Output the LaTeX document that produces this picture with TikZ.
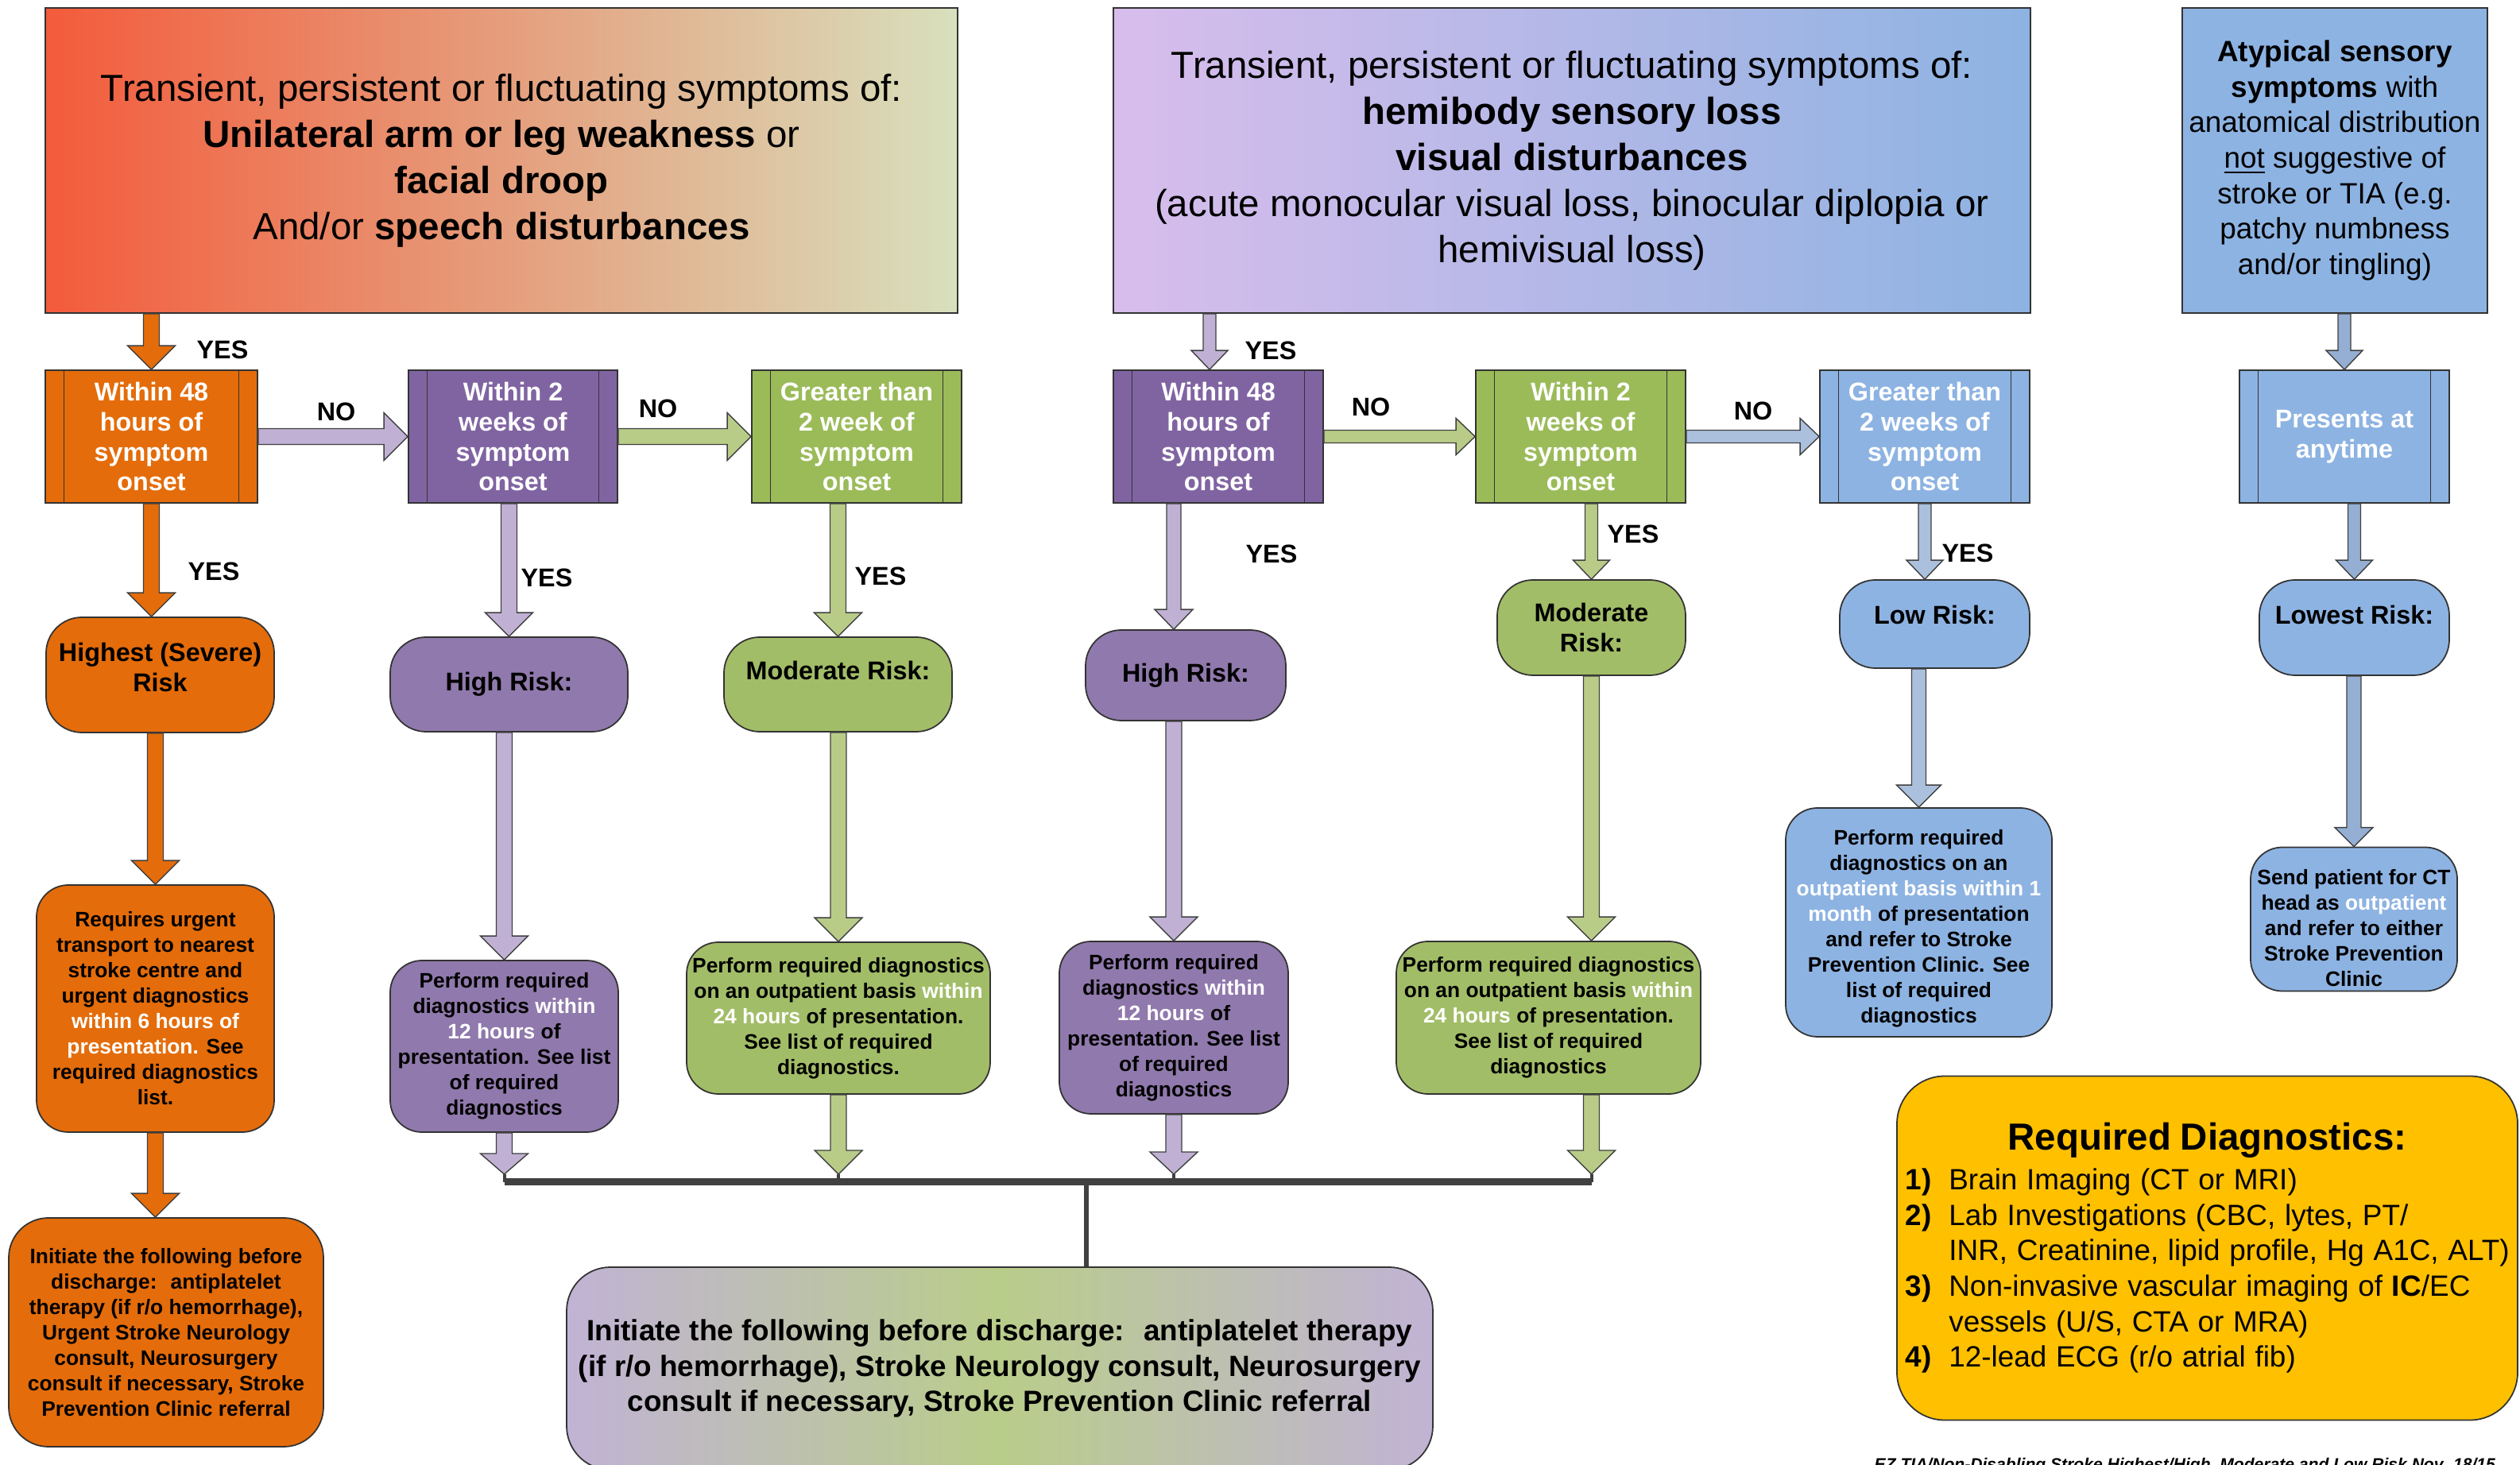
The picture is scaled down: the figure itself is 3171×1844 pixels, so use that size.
\documentclass[tikz,border=0pt]{standalone}
\usepackage{fontspec}
\setmainfont{Liberation Sans}
\usetikzlibrary{calc}
\definecolor{cOrange}{HTML}{E46C0A}
\definecolor{cPurple}{HTML}{8064A2}
\definecolor{cPurpleL}{HTML}{9079AC}
\definecolor{cGreen}{HTML}{9BBB59}
\definecolor{cGreenL}{HTML}{A2BD67}
\definecolor{cBlue}{HTML}{8DB3E2}
\definecolor{aLav}{HTML}{C0B1D4}
\definecolor{aGreen}{HTML}{B8CC88}
\definecolor{aBlue}{HTML}{ABC0DD}
\definecolor{aSteel}{HTML}{94AFD3}
\definecolor{cYellow}{HTML}{FFC000}
\definecolor{busc}{HTML}{404040}
\definecolor{tlL}{HTML}{F35B3B}
\definecolor{tlR}{HTML}{D8E0BD}
\definecolor{tmL}{HTML}{D8BDEC}
\definecolor{tmR}{HTML}{8DB3E2}
\definecolor{botS}{HTML}{C1B3D5}
\definecolor{botM}{HTML}{B9CD8A}
\newcommand\wh[1]{\textcolor{white}{#1}}
% block arrow: start, end, fill, half shaft, half head, head length
\newcommand\blockarrow[6]{%
  \coordinate (ba-s) at (#1);
  \coordinate (ba-t) at (#2);
  \coordinate (ba-h) at ($(ba-t)!#6!(ba-s)$);
  \filldraw[barrow, fill=#3]
    ($(ba-s)!#4!90:(ba-t)$) -- ($(ba-h)!#4!90:(ba-t)$) -- ($(ba-h)!#5!90:(ba-t)$)
    -- (ba-t) -- ($(ba-h)!#5!-90:(ba-t)$) -- ($(ba-h)!#4!-90:(ba-t)$)
    -- ($(ba-s)!#4!-90:(ba-t)$) -- cycle;
}
\tikzset{
  barrow/.style={draw=busc, line width=0.4pt, line join=miter},
  tbox/.style={draw=black!80, line width=0.5pt, minimum height=38.4mm, inner sep=0pt,
    align=center, font=\fontsize{13.5}{16.5}\selectfont},
  dbox/.style={draw=black!80, line width=0.5pt, minimum height=16.7mm, inner sep=0pt,
    align=center, text=white, font=\fontsize{9.2}{10.8}\selectfont\bfseries,
    path picture={\draw[black!80, line width=0.5pt]
      ([xshift=2.35mm]path picture bounding box.north west) -- ([xshift=2.35mm]path picture bounding box.south west)
      ([xshift=-2.35mm]path picture bounding box.north east) -- ([xshift=-2.35mm]path picture bounding box.south east);}},
  rbox/.style={draw=black!80, line width=0.5pt, rounded corners=4.5mm, inner sep=0pt,
    align=center, font=\fontsize{9.2}{10.8}\selectfont\bfseries},
  abox/.style={draw=black!80, line width=0.5pt, rounded corners=4mm, inner sep=0pt,
    align=center, font=\fontsize{7.5}{9.1}\selectfont\bfseries},
  lbl/.style={inner sep=0pt, font=\fontsize{9.2}{10.8}\selectfont\bfseries},
  busline/.style={draw=busc, line width=0.9mm},
  tickline/.style={draw=busc, line width=0.4mm},
  stemline/.style={draw=busc, line width=0.6mm},
}
\begin{document}
\begin{tikzpicture}[x=0.1mm, y=-0.1mm]
\useasboundingbox (0,0) rectangle (3171,1844);
\fill[white] (0,0) rectangle (3171,1844);

% top boxes
\node[tbox, left color=tlL, right color=tlR, minimum width=114.8mm] (tl) at (631,202)
  {Transient, persistent or fluctuating symptoms of:\\\textbf{Unilateral arm or leg weakness} or\\\textbf{facial droop}\\And/or \textbf{speech disturbances}};
\node[tbox, left color=tmL, right color=tmR, minimum width=115.4mm] (tm) at (1978,202)
  {Transient, persistent or fluctuating symptoms of:\\\textbf{hemibody sensory loss}\\\textbf{visual disturbances}\\(acute monocular visual loss, binocular diplopia or\\hemivisual loss)};
\node[tbox, fill=cBlue, minimum width=38.4mm, font=\fontsize{10.5}{12.7}\selectfont] (tr) at (2938,202)
  {\textbf{Atypical sensory}\\\textbf{symptoms} with\\anatomical distribution\\\underline{not} suggestive of\\stroke or TIA (e.g.\\patchy numbness\\and/or tingling)};

% decision boxes
\node[dbox, fill=cOrange, minimum width=26.7mm] (d1) at (190.5,549.5) {Within 48\\hours of\\symptom\\onset};
\node[dbox, fill=cPurple, minimum width=26.3mm] (d2) at (645.5,549.5) {Within 2\\weeks of\\symptom\\onset};
\node[dbox, fill=cGreen, minimum width=26.4mm] (d3) at (1078,549.5) {Greater than\\2 week of\\symptom\\onset};
\node[dbox, fill=cPurple, minimum width=26.4mm] (d4) at (1533,549.5) {Within 48\\hours of\\symptom\\onset};
\node[dbox, fill=cGreen, minimum width=26.4mm] (d5) at (1989,549.5) {Within 2\\weeks of\\symptom\\onset};
\node[dbox, fill=cBlue, minimum width=26.4mm] (d6) at (2422,549.5) {Greater than\\2 weeks of\\symptom\\onset};
\node[dbox, fill=cBlue, minimum width=26.4mm] (d7) at (2950,549.5) {Presents at\\anytime};

% risk nodes
\node[rbox, fill=cOrange, minimum width=28.7mm, minimum height=14.5mm] (r1) at (201.5,849.5) {Highest (Severe)\\Risk\rule[-5.7pt]{0pt}{5.7pt}};
\node[rbox, fill=cPurpleL, minimum width=29.9mm, minimum height=11.9mm] (r2) at (640.5,861.5) {High Risk:};
\node[rbox, fill=cGreenL, minimum width=28.7mm, minimum height=11.9mm, text depth=10pt] (r3) at (1054.5,861.5) {Moderate Risk:};
\node[rbox, fill=cPurpleL, minimum width=25.2mm, minimum height=11.4mm] (r4) at (1492,850) {High Risk:};
\node[rbox, fill=cGreenL, minimum width=23.7mm, minimum height=12mm] (r5) at (2002.5,790) {Moderate\\Risk:};
\node[rbox, fill=cBlue, minimum width=23.9mm, minimum height=11.1mm, text depth=6.8pt] (r6) at (2434.5,785.5) {Low Risk:};
\node[rbox, fill=cBlue, minimum width=23.9mm, minimum height=12mm, text depth=9.5pt] (r7) at (2962.5,790) {Lowest Risk:};

% action boxes
\node[abox, fill=cOrange, minimum width=29.9mm, minimum height=31.1mm] (a1) at (195.5,1269.5)
  {Requires urgent\\transport to nearest\\stroke centre and\\urgent diagnostics\\\wh{within 6 hours of}\\\wh{presentation.} See\\required diagnostics\\list.};
\node[abox, fill=cPurpleL, minimum width=28.7mm, minimum height=21.6mm] (a2) at (634.5,1317)
  {Perform required\\diagnostics \wh{within}\\\wh{12 hours} of\\presentation. See list\\of required\\diagnostics};
\node[abox, fill=cGreenL, minimum width=38.2mm, minimum height=19.1mm] (a3) at (1055,1281.5)
  {Perform required diagnostics\\on an outpatient basis \wh{within}\\\wh{24 hours} of presentation.\\See list of required\\diagnostics.};
\node[abox, fill=cPurpleL, minimum width=28.8mm, minimum height=21.7mm] (a4) at (1477,1293.5)
  {Perform required\\diagnostics \wh{within}\\\wh{12 hours} of\\presentation. See list\\of required\\diagnostics};
\node[abox, fill=cGreenL, minimum width=38.3mm, minimum height=19.2mm] (a5) at (1948.5,1281)
  {Perform required diagnostics\\on an outpatient basis \wh{within}\\\wh{24 hours} of presentation.\\See list of required\\diagnostics};
\node[abox, fill=cBlue, minimum width=33.5mm, minimum height=28.8mm] (a6) at (2414.5,1161)
  {\rule{0pt}{10pt}Perform required\\diagnostics on an\\\wh{outpatient basis within 1}\\\wh{month} of presentation\\and refer to Stroke\\Prevention Clinic. See\\list of required\\diagnostics};
\node[abox, fill=cBlue, minimum width=26mm, minimum height=18.1mm] (a7) at (2962,1157)
  {\rule{0pt}{12pt}Send patient for CT\\head as \wh{outpatient}\\and refer to either\\Stroke Prevention\\Clinic};
\node[abox, fill=cOrange, rounded corners=5mm, minimum width=39.6mm, minimum height=28.8mm] (i1) at (209,1677)
  {Initiate the following before\\discharge:~ antiplatelet\\therapy (if r/o hemorrhage),\\Urgent Stroke Neurology\\consult, Neurosurgery\\consult if necessary, Stroke\\Prevention Clinic referral};
\node[abox, left color=botS, right color=botS, middle color=botM, rounded corners=5.5mm,
  minimum width=109mm, minimum height=25.5mm, font=\fontsize{10.5}{12.6}\selectfont\bfseries] (bot) at (1258,1722.5)
  {Initiate the following before discharge:~ antiplatelet therapy\\(if r/o hemorrhage), Stroke Neurology consult, Neurosurgery\\consult if necessary, Stroke Prevention Clinic referral};

% required diagnostics
\node[draw=black!80, line width=0.5pt, fill=cYellow, rounded corners=6mm, minimum width=78.1mm,
  minimum height=43.3mm, inner xsep=1mm, inner ysep=0pt, text width=76mm] (yel) at (2777.5,1571)
  {\parindent=0pt
   {\centering\fontsize{13.5}{16}\selectfont\bfseries Required Diagnostics:\par}\vspace{1.5pt}
   \raggedright\fontsize{10.5}{12.7}\selectfont
   \hangindent=15.6pt\hangafter=1 \makebox[15.6pt][l]{\textbf{1)}}\mbox{Brain Imaging (CT or MRI)}\par
   \hangindent=15.6pt\hangafter=1 \makebox[15.6pt][l]{\textbf{2)}}\mbox{Lab Investigations (CBC, lytes, PT/}\newline \mbox{INR, Creatinine, lipid profile, Hg A1C, ALT)}\par
   \hangindent=15.6pt\hangafter=1 \makebox[15.6pt][l]{\textbf{3)}}\mbox{Non-invasive vascular imaging of \textbf{IC}/EC}\newline \mbox{vessels (U/S, CTA or MRA)}\par
   \hangindent=15.6pt\hangafter=1 \makebox[15.6pt][l]{\textbf{4)}}\mbox{12-lead ECG (r/o atrial fib)}\par};

\node[anchor=base west, inner sep=0pt, font=\fontsize{6}{7}\selectfont\bfseries\itshape] (foot) at (2358,1851)
  {EZ TIA/Non-Disabling Stroke Highest/High, Moderate and Low Risk Nov. 18/15};

% bus to bottom box
\coordinate (busT) at (0,1478);
\coordinate (busY) at (0,1488);
\coordinate (stemx) at (1367,0);
\coordinate (tW) at (a2.south |- busT);
\coordinate (tX) at (a3.south |- busT);
\coordinate (tY) at (a4.south |- busT);
\coordinate (tZ) at (r5.south |- busT);
\draw[stemline] (stemx |- busY) -- (stemx |- bot.north);
\draw[tickline] (tW) -- (tW |- busY) (tX) -- (tX |- busY) (tY) -- (tY |- busY) (tZ) -- (tZ |- busY);
\draw[busline] (tW |- busY) -- (tZ |- busY);

% arrows top -> decision
\coordinate (xB) at (1522,0);
\blockarrow{tl.south -| d1.north}{d1.north}{cOrange}{1mm}{3mm}{3mm}
\blockarrow{tm.south -| xB}{d4.north -| xB}{aLav}{0.8mm}{2.3mm}{2.4mm}
\blockarrow{tr.south -| d7.north}{d7.north}{aSteel}{0.8mm}{2.3mm}{2.4mm}
% NO arrows
\blockarrow{d1.east}{d2.west}{aLav}{1mm}{3mm}{3mm}
\blockarrow{d2.east}{d3.west}{aGreen}{1mm}{3mm}{3mm}
\blockarrow{d4.east}{d5.west}{aGreen}{0.8mm}{2.3mm}{2.4mm}
\blockarrow{d5.east}{d6.west}{aBlue}{0.8mm}{2.3mm}{2.4mm}
% decision -> risk
\blockarrow{d1.south}{d1.south |- r1.north}{cOrange}{1mm}{3mm}{3mm}
\blockarrow{d2.south -| r2.north}{r2.north}{aLav}{1mm}{3mm}{3mm}
\blockarrow{d3.south -| r3.north}{r3.north}{aGreen}{1mm}{3mm}{3mm}
\blockarrow{d4.south -| a4.north}{r4.north -| a4.north}{aLav}{0.9mm}{2.4mm}{2.5mm}
\blockarrow{d5.south -| r5.north}{r5.north}{aGreen}{0.8mm}{2.3mm}{2.4mm}
\blockarrow{d6.south}{d6.south |- r6.north}{aBlue}{0.8mm}{2.3mm}{2.4mm}
\blockarrow{d7.south -| r7.north}{r7.north}{aSteel}{0.8mm}{2.3mm}{2.4mm}
% risk -> action
\blockarrow{r1.south -| a1.north}{a1.north}{cOrange}{1mm}{3mm}{3mm}
\blockarrow{r2.south -| a2.north}{a2.north}{aLav}{1mm}{3mm}{3mm}
\blockarrow{r3.south -| a3.north}{a3.north}{aGreen}{1mm}{3mm}{3mm}
\blockarrow{r4.south -| a4.north}{a4.north}{aLav}{1mm}{3mm}{3mm}
\blockarrow{r5.south}{r5.south |- a5.north}{aGreen}{1mm}{3mm}{3mm}
\blockarrow{r6.south -| a6.north}{a6.north}{aBlue}{0.9mm}{2.8mm}{2.8mm}
\blockarrow{r7.south -| a7.north}{a7.north}{aSteel}{0.9mm}{2.4mm}{2.4mm}
\blockarrow{a1.south}{a1.south |- i1.north}{cOrange}{1mm}{3mm}{3mm}
% action -> bus
\blockarrow{a2.south}{tW}{aLav}{1mm}{3mm}{2.6mm}
\blockarrow{a3.south}{tX}{aGreen}{1mm}{3mm}{3mm}
\blockarrow{a4.south}{tY}{aLav}{1mm}{3mm}{2.8mm}
\blockarrow{r5.south |- a5.south}{tZ}{aGreen}{1mm}{3mm}{3mm}

% labels
\node[lbl] (y1) at (280,440) {YES};
\node[lbl] (n1) at (423,518) {NO};
\node[lbl] (n2) at (828,514) {NO};
\node[lbl] (y2) at (269,719) {YES};
\node[lbl] (y3) at (688,727) {YES};
\node[lbl] (y4) at (1108,725) {YES};
\node[lbl] (y5) at (1599,441) {YES};
\node[lbl] (n3) at (1725,512) {NO};
\node[lbl] (n4) at (2206,517) {NO};
\node[lbl] (y6) at (1600,697) {YES};
\node[lbl] (y7) at (2055,672) {YES};
\node[lbl] (y8) at (2476,696) {YES};
\end{tikzpicture}
\end{document}
